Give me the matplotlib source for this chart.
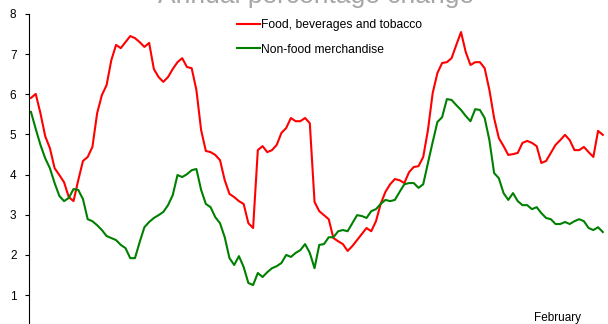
import matplotlib
matplotlib.use("Agg")
import matplotlib.pyplot as plt
import numpy as np

plt.rcParams['font.family'] = ['Liberation Sans', 'DejaVu Sans']

# monthly annual % change, Jan 2000 .. Feb 2010
food = [5.91, 6.01, 5.53, 4.96, 4.66, 4.16, 3.99, 3.81, 3.44, 3.34,
        3.86, 4.34, 4.44, 4.69, 5.53, 5.98, 6.23, 6.85, 7.23, 7.15,
        7.30, 7.45, 7.40, 7.30, 7.18, 7.28, 6.63, 6.43, 6.31, 6.43,
        6.63, 6.80, 6.90, 6.68, 6.65, 6.11, 5.11, 4.59, 4.56, 4.49,
        4.36, 3.86, 3.52, 3.44, 3.34, 3.27, 2.79, 2.67, 4.61, 4.71,
        4.56, 4.61, 4.74, 5.04, 5.16, 5.41, 5.33, 5.33, 5.41, 5.28,
        3.32, 3.09, 2.99, 2.89, 2.42, 2.34, 2.27, 2.10, 2.22, 2.37,
        2.52, 2.67, 2.59, 2.84, 3.27, 3.57, 3.76, 3.89, 3.86, 3.79,
        4.06, 4.19, 4.21, 4.44, 5.11, 6.03, 6.53, 6.78, 6.80, 6.90,
        7.23, 7.55, 7.05, 6.73, 6.80, 6.80, 6.65, 6.11, 5.41, 4.91,
        4.71, 4.49, 4.51, 4.54, 4.79, 4.84, 4.79, 4.71, 4.29, 4.34,
        4.54, 4.74, 4.86, 4.99, 4.86, 4.61, 4.61, 4.69, 4.56, 4.44,
        5.09, 4.99]

non_food = [5.56, 5.14, 4.74, 4.41, 4.16, 3.79, 3.47, 3.34, 3.42, 3.64,
            3.62, 3.39, 2.89, 2.84, 2.74, 2.62, 2.47, 2.42, 2.37, 2.25,
            2.17, 1.92, 1.92, 2.32, 2.69, 2.82, 2.92, 2.99, 3.07, 3.24,
            3.49, 3.99, 3.94, 4.01, 4.11, 4.14, 3.62, 3.27, 3.19, 2.94,
            2.79, 2.44, 1.92, 1.75, 1.97, 1.70, 1.30, 1.25, 1.55, 1.45,
            1.57, 1.67, 1.72, 1.80, 2.00, 1.95, 2.05, 2.12, 2.27, 2.05,
            1.67, 2.25, 2.27, 2.44, 2.44, 2.59, 2.62, 2.59, 2.79, 2.99,
            2.97, 2.92, 3.09, 3.14, 3.27, 3.37, 3.34, 3.37, 3.57, 3.76,
            3.79, 3.79, 3.67, 3.76, 4.29, 4.81, 5.31, 5.43, 5.88, 5.86,
            5.73, 5.61, 5.46, 5.33, 5.63, 5.61, 5.41, 4.86, 4.04, 3.91,
            3.54, 3.37, 3.54, 3.34, 3.24, 3.24, 3.14, 3.19, 3.04, 2.92,
            2.89, 2.77, 2.77, 2.82, 2.77, 2.84, 2.89, 2.84, 2.67, 2.62,
            2.69, 2.57]

yticks = [1, 2, 3, 4, 5, 6, 7, 8]

months = np.arange(len(food))

fig = plt.figure(figsize=(6.08, 3.24), dpi=100)
ax = fig.add_axes([29 / 608, 0.0, 579 / 608, 310 / 324])

ax.plot(months, food, color='#ff0000', lw=1.5, label='Food, beverages and tobacco')
ax.plot(months, non_food, color='#008000', lw=1.5, label='Non-food merchandise')

ax.set_xlim(-0.42, 122.1)
ax.set_ylim(0.28, 8)
ax.set_yticks(yticks)
ax.set_xticks([])
ax.tick_params(axis='y', length=3, width=0.8, pad=6, labelsize=8.5, colors='black')

for side in ['top', 'right', 'bottom']:
    ax.spines[side].set_visible(False)
ax.spines['left'].set_linewidth(0.8)

ax.legend(loc='upper left', bbox_to_anchor=(0.35, 0.998), frameon=False,
          fontsize=8.75, handlelength=1.9, handletextpad=0.1, labelspacing=1.0,
          borderaxespad=0)

ax.text(0.873, 0.0, 'February', transform=ax.transAxes, fontsize=8.5,
        ha='left', va='bottom')

fig.text(0.52, 1 - 3 / 324, 'Annual percentage change', fontsize=19,
         color='#a6a6a6', ha='center', va='baseline')

fig.savefig('out.png', dpi=100)
